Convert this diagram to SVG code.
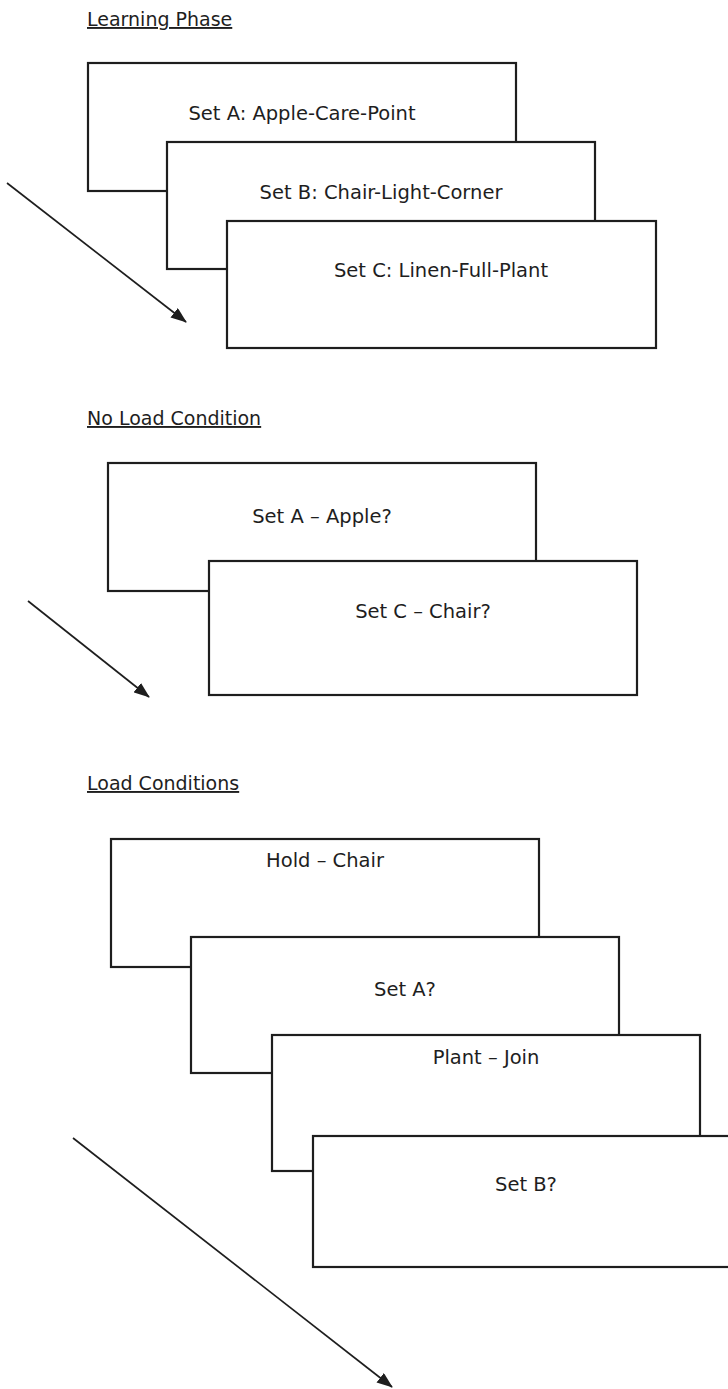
<svg xmlns="http://www.w3.org/2000/svg" width="728" height="1389" viewBox="0 0 728 1389">
  <defs>
    <style>
      .card { fill: #ffffff; stroke: #1e1e1e; stroke-width: 2.2; }
      .label { font-family: "DejaVu Sans", Verdana, sans-serif; font-size: 19.5px; fill: #1e1e1e; text-anchor: middle; }
      .title { font-family: "DejaVu Sans", Verdana, sans-serif; font-size: 19px; fill: #1e1e1e; text-decoration: underline; }
      .flow { stroke: #1e1e1e; stroke-width: 1.7; fill: none; marker-end: url(#head); }
    </style>
    <marker id="head" viewBox="0 0 16 12" refX="15" refY="6" markerWidth="16" markerHeight="12" markerUnits="userSpaceOnUse" orient="auto">
      <path d="M0,0 L16,6 L0,12 z" fill="#1e1e1e"/>
    </marker>
  </defs>

  <!-- Section titles -->
  <text class="title" x="87" y="26">Learning Phase</text>
  <text class="title" x="87" y="425">No Load Condition</text>
  <text class="title" x="87" y="790">Load Conditions</text>

  <!-- Learning phase cards -->
  <g id="learn-set-a">
    <rect class="card" x="88" y="63" width="428" height="128"/>
    <text class="label" x="302" y="120">Set A: Apple-Care-Point</text>
  </g>
  <g id="learn-set-b">
    <rect class="card" x="167" y="142" width="428" height="127"/>
    <text class="label" x="381" y="199">Set B: Chair-Light-Corner</text>
  </g>
  <g id="learn-set-c">
    <rect class="card" x="227" y="221" width="429" height="127"/>
    <text class="label" x="441" y="277">Set C: Linen-Full-Plant</text>
  </g>

  <!-- No load condition cards -->
  <g id="noload-set-a">
    <rect class="card" x="108" y="463" width="428" height="128"/>
    <text class="label" x="322" y="523">Set A – Apple?</text>
  </g>
  <g id="noload-set-c">
    <rect class="card" x="209" y="561" width="428" height="134"/>
    <text class="label" x="423" y="618">Set C – Chair?</text>
  </g>

  <!-- Load condition cards -->
  <g id="load-hold-chair">
    <rect class="card" x="111" y="839" width="428" height="128"/>
    <text class="label" x="325" y="867">Hold – Chair</text>
  </g>
  <g id="load-set-a">
    <rect class="card" x="191" y="937" width="428" height="136"/>
    <text class="label" x="405" y="996">Set A?</text>
  </g>
  <g id="load-plant-join">
    <rect class="card" x="272" y="1035" width="428" height="136"/>
    <text class="label" x="486" y="1064">Plant – Join</text>
  </g>
  <g id="load-set-b">
    <rect class="card" x="313" y="1136" width="428" height="131"/>
    <text class="label" x="526" y="1191">Set B?</text>
  </g>

  <!-- Sequence arrows -->
  <g id="connectors">
    <line class="flow" x1="7" y1="183" x2="186" y2="322"/>
    <line class="flow" x1="28" y1="601" x2="149" y2="697"/>
    <line class="flow" x1="73" y1="1138" x2="392" y2="1387"/>
  </g>
</svg>
